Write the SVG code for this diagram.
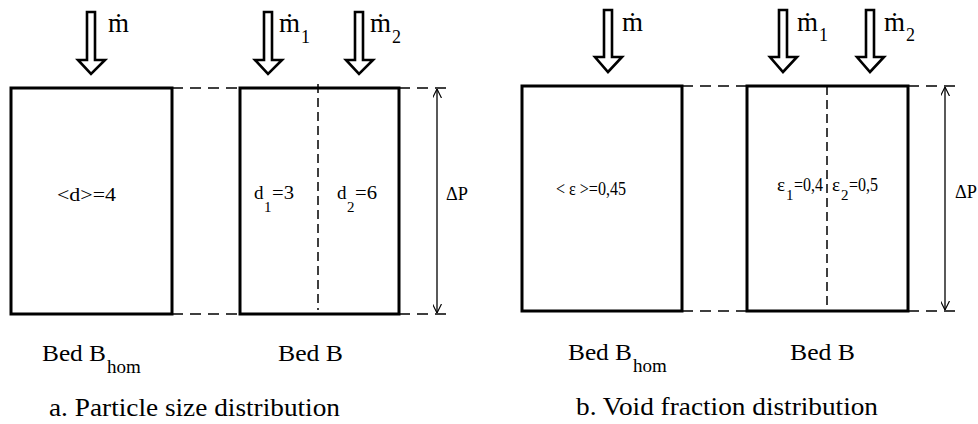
<svg xmlns="http://www.w3.org/2000/svg" width="978" height="424" viewBox="0 0 978 424">
<style>
.box{fill:none;stroke:#000;stroke-width:3}
.ext{fill:none;stroke:#000;stroke-width:1.5;stroke-dasharray:11 7}
.div{fill:none;stroke:#000;stroke-width:1.5;stroke-dasharray:9 5}
.flow{fill:#fff;stroke:#000;stroke-width:2.6;stroke-linejoin:miter}
.dim{fill:none;stroke:#000;stroke-width:1.3}
text{font-family:"Liberation Serif","Times New Roman",Times,Tinos,"Noto Serif","DejaVu Serif",FreeSerif,serif;fill:#000}
.m{font-size:27px}
.ms{font-size:18px}
.lab{font-size:24px}
.sub{font-size:19px}
.cap{font-size:25px}
.in{font-size:19px}
.ins{font-size:15px}
</style>
<defs>
<marker id="ah" viewBox="0 0 10 10" refX="10" refY="5" markerWidth="9" markerHeight="9" markerUnits="userSpaceOnUse" orient="auto-start-reverse">
<path d="M0,0 L10,5 L0,10" fill="none" stroke="#000" stroke-width="1.3"/>
</marker>
</defs>

<g id="connectors">
<path class="ext" d="M172,88 H240 M399,88 H453 M172,314 H240 M399,314 H453"/>
<path class="ext" d="M682,86 H747 M908,86 H956 M682,311 H747 M908,311 H956"/>
<line class="dim" x1="437" y1="89" x2="437" y2="313" marker-start="url(#ah)" marker-end="url(#ah)"/>
<line class="dim" x1="945" y1="87" x2="945" y2="310" marker-start="url(#ah)" marker-end="url(#ah)"/>
</g>

<g id="flow-a-m">
<path class="flow" d="M87,12 V60 H78 L91,74 L105,60 H95 V12 Z"/>
<text class="m" x="108" y="32">ṁ</text>
</g>
<g id="flow-a-m1">
<path class="flow" d="M264,12 V60 H255 L268,74 L282,60 H272 V12 Z"/>
<text class="m" x="279" y="32">ṁ</text><text class="ms" x="301" y="43">1</text>
</g>
<g id="flow-a-m2">
<path class="flow" d="M355,12 V60 H346 L359,74 L373,60 H363 V12 Z"/>
<text class="m" x="370" y="32">ṁ</text><text class="ms" x="392" y="43">2</text>
</g>

<g id="bed-a-hom">
<rect class="box" x="11" y="88" width="161" height="226"/>
<text class="in" x="57" y="201" textLength="59" lengthAdjust="spacingAndGlyphs">&lt;d&gt;=4</text>
<text class="lab" x="42" y="361" textLength="64" lengthAdjust="spacingAndGlyphs">Bed B</text>
<text class="sub" x="107" y="373">hom</text>
</g>
<g id="bed-a-B">
<rect class="box" x="240" y="88" width="159" height="226"/>
<line class="div" x1="318" y1="84" x2="318" y2="310"/>
<text class="in" x="254" y="199">d</text><text class="ins" x="264" y="212">1</text><text class="in" x="272" y="199" textLength="22" lengthAdjust="spacingAndGlyphs">=3</text>
<text class="in" x="337" y="199">d</text><text class="ins" x="347" y="212">2</text><text class="in" x="355" y="199" textLength="22" lengthAdjust="spacingAndGlyphs">=6</text>
<text class="lab" x="278" y="361" textLength="65" lengthAdjust="spacingAndGlyphs">Bed B</text>
</g>
<g id="dp-a"><text class="in" x="446" y="200" textLength="22" lengthAdjust="spacingAndGlyphs">ΔP</text></g>
<text class="cap" x="49" y="416" textLength="291" lengthAdjust="spacingAndGlyphs">a. Particle size distribution</text>

<g id="flow-b-m">
<path class="flow" d="M604,10 V57 H595 L608,72 L622,57 H612 V10 Z"/>
<text class="m" x="622" y="31">ṁ</text>
</g>
<g id="flow-b-m1">
<path class="flow" d="M779,10 V57 H770 L783,72 L797,57 H787 V10 Z"/>
<text class="m" x="797" y="31">ṁ</text><text class="ms" x="819" y="41">1</text>
</g>
<g id="flow-b-m2">
<path class="flow" d="M866,10 V57 H857 L870,72 L884,57 H874 V10 Z"/>
<text class="m" x="884" y="31">ṁ</text><text class="ms" x="906" y="41">2</text>
</g>

<g id="bed-b-hom">
<rect class="box" x="522" y="86" width="160" height="225"/>
<text class="in" x="556" y="195" textLength="70" lengthAdjust="spacingAndGlyphs">&lt; ε &gt;=0,45</text>
<text class="lab" x="568" y="360" textLength="64" lengthAdjust="spacingAndGlyphs">Bed B</text>
<text class="sub" x="633" y="372">hom</text>
</g>
<g id="bed-b-B">
<rect class="box" x="747" y="86" width="161" height="225"/>
<line class="div" x1="827" y1="86" x2="827" y2="311"/>
<text class="in" x="777" y="191">ε</text><text class="ins" x="786" y="200">1</text><text class="in" x="794" y="191" textLength="29" lengthAdjust="spacingAndGlyphs">=0,4</text>
<text class="in" x="832" y="191">ε</text><text class="ins" x="841" y="200">2</text><text class="in" x="849" y="191" textLength="29" lengthAdjust="spacingAndGlyphs">=0,5</text>
<text class="lab" x="790" y="360" textLength="65" lengthAdjust="spacingAndGlyphs">Bed B</text>
</g>
<g id="dp-b"><text class="in" x="955" y="198" textLength="22" lengthAdjust="spacingAndGlyphs">ΔP</text></g>
<text class="cap" x="576" y="415" textLength="302" lengthAdjust="spacingAndGlyphs">b. Void fraction distribution</text>
</svg>
